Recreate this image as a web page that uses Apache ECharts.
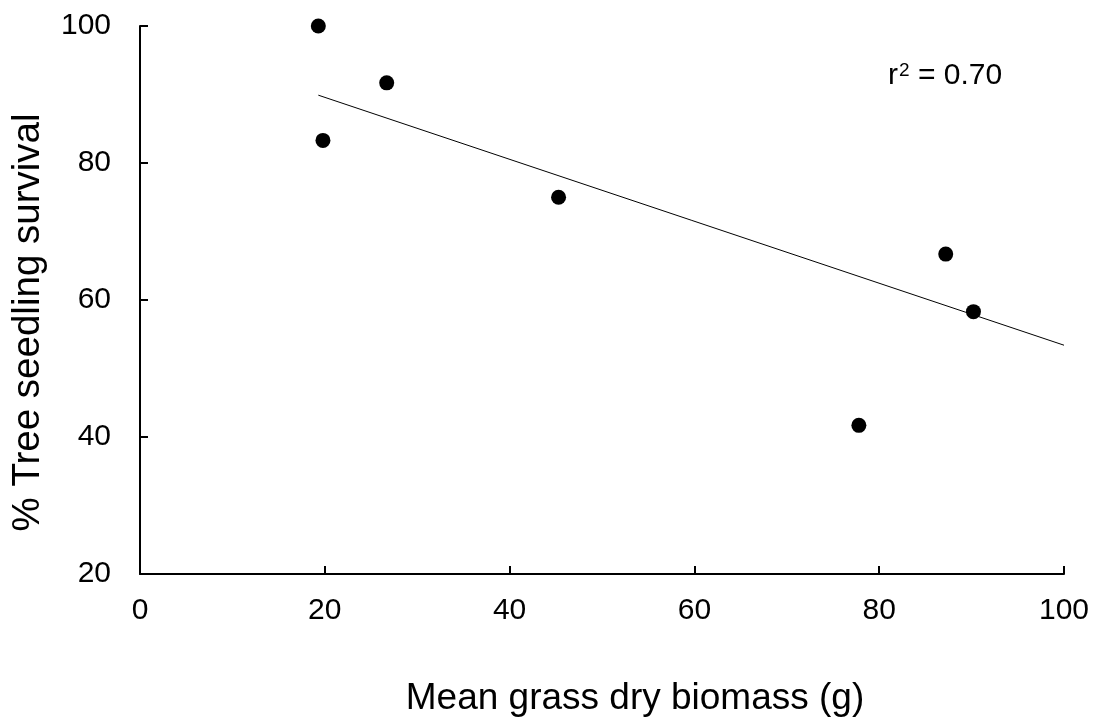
<!DOCTYPE html>
<html><head><meta charset="utf-8">
<script src="https://cdn.jsdelivr.net/npm/echarts@6/dist/echarts.min.js"></script>
<style>html,body{margin:0;padding:0;background:#fff}#c{width:1098px;height:726px}</style>
</head><body><div id="c"></div>
<script>
const biomass = [19.3, 19.8, 26.7, 45.3, 87.2, 90.2, 77.8];
const survival = [100, 83.3, 91.7, 75, 66.7, 58.3, 41.7];
const trendX = [19.3, 100];
const trendY = [89.9, 53.4];
const xTicks = [0, 20, 40, 60, 80, 100];
const yTicks = [20, 40, 60, 80, 100];
const r2Label = '0.70';

const F = '"Liberation Sans", Arial, sans-serif';
const chart = echarts.init(document.getElementById('c'));
chart.setOption({
  animation: false,
  backgroundColor: '#fff',
  grid: {left: 140, right: 34, top: 26, bottom: 152, containLabel: false},
  xAxis: {
    type: 'value', min: xTicks[0], max: xTicks[xTicks.length-1], interval: 20,
    name: 'Mean grass dry biomass (g)', nameLocation: 'middle', nameGap: 106,
    nameTextStyle: {fontFamily: F, fontSize: 37, color: '#000', padding: [0, 0, 0, 66]},
    axisLine: {show: true, lineStyle: {color: '#000', width: 2}},
    axisTick: {show: true, inside: true, length: 8, lineStyle: {color: '#000', width: 2}},
    axisLabel: {fontFamily: F, fontSize: 30, color: '#000', margin: 22},
    splitLine: {show: false}
  },
  yAxis: {
    type: 'value', min: yTicks[0], max: yTicks[yTicks.length-1], interval: 20,
    name: '% Tree seedling survival', nameLocation: 'middle', nameGap: 92,
    nameTextStyle: {fontFamily: F, fontSize: 38.5, color: '#000', padding: [0, 45, 0, 0]},
    axisLine: {show: true, lineStyle: {color: '#000', width: 2}},
    axisTick: {show: true, inside: true, length: 8, lineStyle: {color: '#000', width: 2}},
    axisLabel: {fontFamily: F, fontSize: 30, color: '#000', margin: 29},
    splitLine: {show: false}
  },
  graphic: [{
    type: 'text', left: 888, top: 59,
    style: {
      text: '{a|r}{s|2}{a| = ' + r2Label + '}',
      rich: {
        a: {fontFamily: F, fontSize: 30, fill: '#000', lineHeight: 32, verticalAlign: 'bottom'},
        s: {fontFamily: F, fontSize: 19, fill: '#000', lineHeight: 32, verticalAlign: 'top', padding: [2, 0, 0, 1]}
      }
    }
  }],
  series: [
    {type: 'line', data: trendX.map((x, i) => [x, trendY[i]]), symbol: 'none',
     lineStyle: {color: '#000', width: 1}, silent: true},
    {type: 'scatter', data: biomass.map((x, i) => [x, survival[i]]), symbol: 'circle', symbolSize: 15,
     itemStyle: {color: '#000', opacity: 1}}
  ]
});
</script></body></html>
